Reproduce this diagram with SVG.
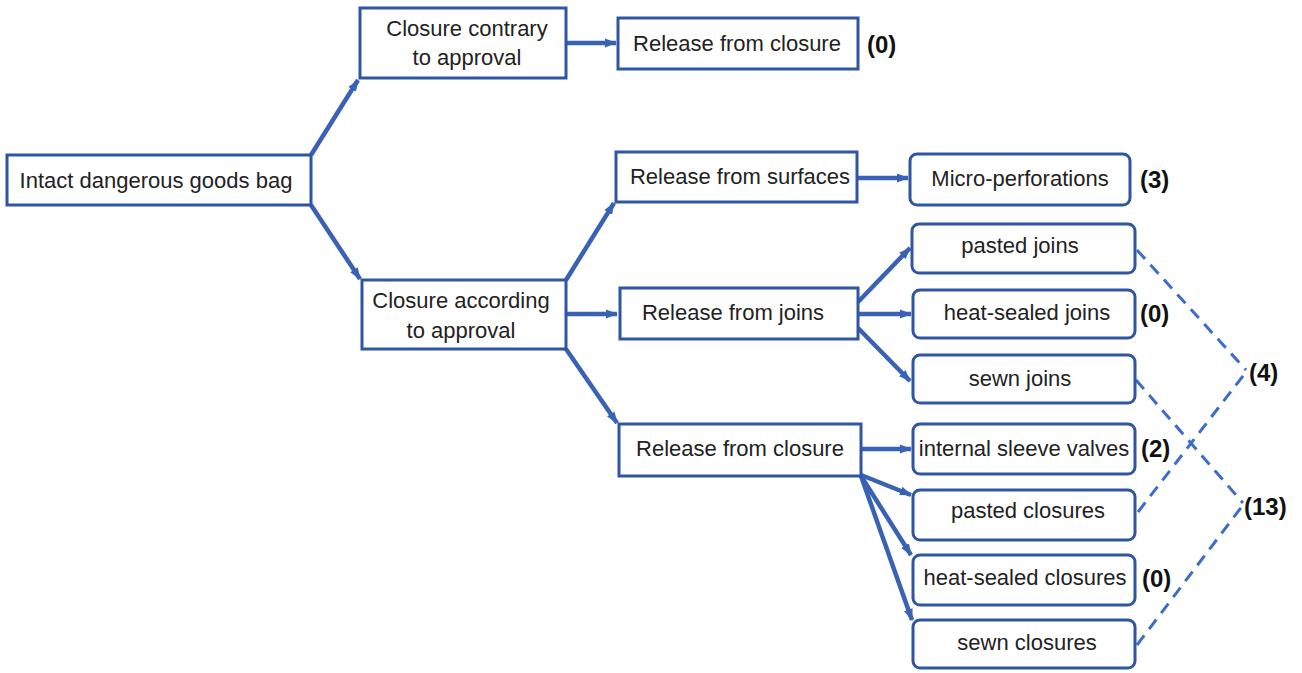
<svg xmlns="http://www.w3.org/2000/svg" width="1302" height="673" viewBox="0 0 1302 673">
<style>
.box{fill:#fff;stroke:#2f55a3;stroke-width:3}
.t{font-family:"Liberation Sans",Arial,sans-serif;font-size:22px;fill:#222;text-anchor:middle}
.n{font-family:"Liberation Sans",Arial,sans-serif;font-size:24px;font-weight:bold;fill:#111}
.a{stroke:#3a62b4;stroke-width:4.5;fill:none;marker-end:url(#ah)}
.d{stroke:#3c6ccc;stroke-width:3;fill:none;stroke-dasharray:12 8}
</style>
<defs>
<marker id="ah" markerUnits="userSpaceOnUse" markerWidth="12" markerHeight="12" viewBox="0 0 12 12" refX="11" refY="6" orient="auto">
<path d="M0,1.5 L12,6 L0,10.5 z" fill="#3a62b4"/>
</marker>
</defs>
<rect width="1302" height="673" fill="#fff"/>
<g id="connectors">
<line class="a" x1="311" y1="155" x2="358" y2="80"/>
<line class="a" x1="311" y1="205" x2="360" y2="279"/>
<line class="a" x1="566" y1="43" x2="616" y2="43"/>
<line class="a" x1="566" y1="280" x2="614" y2="203"/>
<line class="a" x1="566" y1="314" x2="617" y2="314"/>
<line class="a" x1="566" y1="349" x2="617" y2="423"/>
<line class="a" x1="857" y1="178" x2="908" y2="178"/>
<line class="a" x1="858" y1="302" x2="910" y2="248"/>
<line class="a" x1="858" y1="314" x2="911" y2="314"/>
<line class="a" x1="858" y1="328" x2="910" y2="381"/>
<line class="a" x1="861" y1="449" x2="911" y2="449"/>
<line class="a" x1="861" y1="475" x2="911" y2="495"/>
<line class="a" x1="861" y1="476" x2="911" y2="555"/>
<line class="a" x1="861" y1="476" x2="912" y2="620"/>
<line class="d" x1="1137" y1="250" x2="1246" y2="370"/>
<line class="d" x1="1138" y1="512" x2="1246" y2="372"/>
<line class="d" x1="1136" y1="380" x2="1243" y2="503"/>
<line class="d" x1="1137" y1="645" x2="1243" y2="505"/>
</g>
<g id="n-intact"><rect class="box" x="7" y="155" width="304" height="50"/><text class="t" x="156" y="188">Intact dangerous goods bag</text></g>
<g id="n-contrary"><rect class="box" x="360" y="8" width="206" height="70"/><text class="t" x="467" y="36">Closure contrary</text><text class="t" x="467" y="65">to approval</text></g>
<g id="n-rel-closure-top"><rect class="box" x="618" y="18" width="240" height="51"/><text class="t" x="737" y="51">Release from closure</text></g>
<g id="n-rel-surfaces"><rect class="box" x="616" y="152" width="241" height="50"/><text class="t" x="740" y="184">Release from surfaces</text></g>
<g id="n-according"><rect class="box" x="362" y="280" width="204" height="69"/><text class="t" x="461" y="308">Closure according</text><text class="t" x="461" y="338">to approval</text></g>
<g id="n-rel-joins"><rect class="box" x="620" y="288" width="238" height="51"/><text class="t" x="733" y="320">Release from joins</text></g>
<g id="n-rel-closure"><rect class="box" x="619" y="424" width="242" height="52"/><text class="t" x="740" y="456">Release from closure</text></g>
<g id="n-micro"><rect class="box" x="910" y="154" width="220" height="51" rx="7"/><text class="t" x="1020" y="186">Micro-perforations</text></g>
<g id="n-pasted-joins"><rect class="box" x="912" y="224" width="223" height="49" rx="7"/><text class="t" x="1020" y="253">pasted joins</text></g>
<g id="n-heat-joins"><rect class="box" x="913" y="290" width="222" height="48" rx="7"/><text class="t" x="1027" y="320">heat-sealed joins</text></g>
<g id="n-sewn-joins"><rect class="box" x="913" y="355" width="222" height="48" rx="7"/><text class="t" x="1020" y="386">sewn joins</text></g>
<g id="n-sleeve"><rect class="box" x="913" y="424" width="222" height="50" rx="7"/><text class="t" x="1024" y="456">internal sleeve valves</text></g>
<g id="n-pasted-closures"><rect class="box" x="913" y="490" width="222" height="50" rx="7"/><text class="t" x="1028" y="518">pasted closures</text></g>
<g id="n-heat-closures"><rect class="box" x="913" y="555" width="222" height="50" rx="7"/><text class="t" x="1025" y="585">heat-sealed closures</text></g>
<g id="n-sewn-closures"><rect class="box" x="913" y="620" width="222" height="48" rx="7"/><text class="t" x="1027" y="650">sewn closures</text></g>
<g id="labels">
<text class="n" x="867" y="53">(0)</text>
<text class="n" x="1140" y="188">(3)</text>
<text class="n" x="1140" y="322">(0)</text>
<text class="n" x="1141" y="457">(2)</text>
<text class="n" x="1142" y="587">(0)</text>
<text class="n" x="1249" y="381">(4)</text>
<text class="n" x="1244" y="515">(13)</text>
</g>
</svg>
